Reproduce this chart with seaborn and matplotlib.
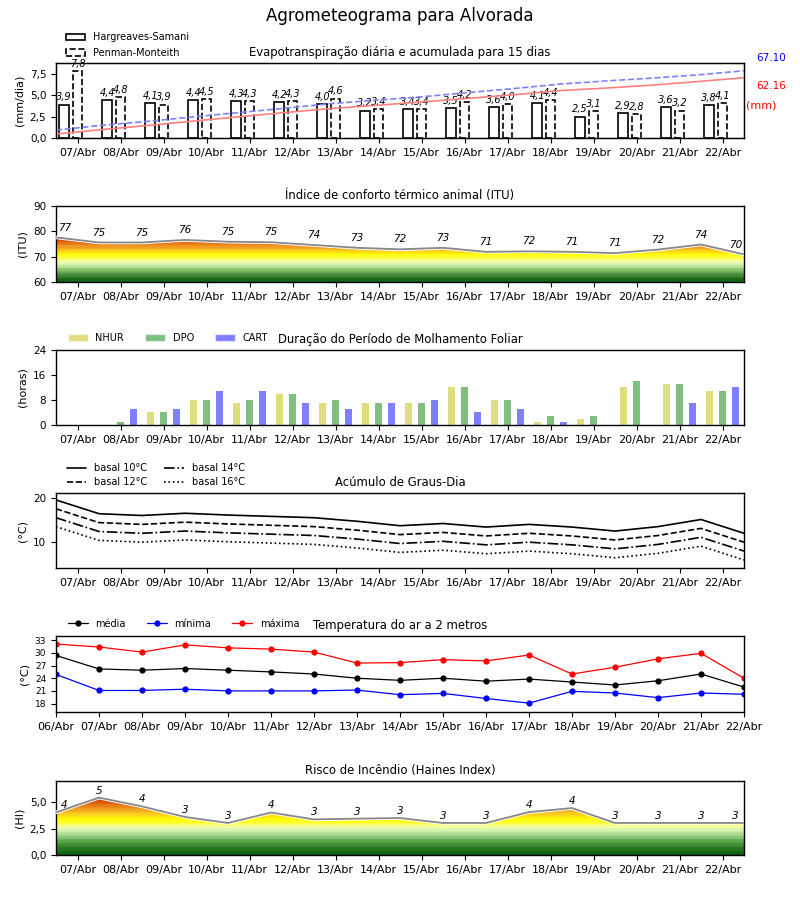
import numpy as np
import matplotlib
matplotlib.use("Agg")
import matplotlib.pyplot as plt
import seaborn as sns
from matplotlib.colors import LinearSegmentedColormap, Normalize
from matplotlib.patches import PathPatch, Patch
from matplotlib.ticker import FuncFormatter
import matplotlib.patheffects as pe

sns.set_style("ticks", {"axes.edgecolor": "black", "xtick.color": "black",
                        "ytick.color": "black", "text.color": "black",
                        "axes.labelcolor": "black"})
plt.rcParams['font.family'] = ['DejaVu Sans']

# ---------------- data ----------------
dias = ["07/Abr", "08/Abr", "09/Abr", "10/Abr", "11/Abr", "12/Abr", "13/Abr", "14/Abr",
        "15/Abr", "16/Abr", "17/Abr", "18/Abr", "19/Abr", "20/Abr", "21/Abr", "22/Abr"]
dias_temp = ["06/Abr"] + dias

et_hs = [3.9, 4.4, 4.1, 4.4, 4.3, 4.2, 4.0, 3.2, 3.4, 3.5, 3.6, 4.1, 2.5, 2.9, 3.6, 3.8]
et_pm = [7.8, 4.8, 3.9, 4.5, 4.3, 4.3, 4.6, 3.4, 3.4, 4.2, 4.0, 4.4, 3.1, 2.8, 3.2, 4.1]
et_hs_total = "62.16"
et_pm_total = "67.10"

itu = [77.6, 75.6, 75.6, 76.6, 75.9, 75.7, 74.6, 73.5, 72.9, 73.5, 71.9, 72.1, 71.9,
       71.4, 72.8, 74.8, 70.9]

nhur = [0, 0, 4, 8, 7, 10, 7, 7, 7, 12, 8, 1, 2, 12, 13, 11]
dpo = [0, 1, 4, 8, 8, 10, 8, 7, 7, 12, 8, 3, 3, 14, 13, 11]
cart = [0, 5, 5, 11, 11, 7, 5, 7, 8, 4, 5, 1, 0, 0, 7, 12]

gd10 = [19.5, 16.4, 16.0, 16.5, 16.1, 15.8, 15.5, 14.7, 13.7, 14.2, 13.4, 14.0, 13.4,
        12.5, 13.5, 15.1, 12.0]
gd12 = [17.5, 14.4, 14.0, 14.5, 14.1, 13.8, 13.5, 12.7, 11.7, 12.2, 11.4, 12.0, 11.4,
        10.5, 11.5, 13.1, 10.0]
gd14 = [15.5, 12.4, 12.0, 12.5, 12.1, 11.8, 11.5, 10.7, 9.7, 10.2, 9.4, 10.0, 9.4,
        8.5, 9.5, 11.1, 8.0]
gd16 = [13.5, 10.4, 10.0, 10.5, 10.1, 9.8, 9.5, 8.7, 7.7, 8.2, 7.4, 8.0, 7.4,
        6.5, 7.5, 9.1, 6.0]

t_med = [29.4, 26.2, 25.9, 26.3, 25.9, 25.5, 25.0, 24.0, 23.5, 24.0, 23.3, 23.8, 23.1,
         22.4, 23.4, 25.0, 21.9]
t_min = [24.9, 21.1, 21.1, 21.4, 21.0, 21.0, 21.0, 21.2, 20.1, 20.4, 19.2, 18.1, 20.9,
         20.5, 19.4, 20.5, 20.2]
t_max = [32.1, 31.4, 30.2, 31.9, 31.2, 30.9, 30.2, 27.6, 27.7, 28.4, 28.1, 29.5, 25.0,
         26.6, 28.6, 29.9, 24.0]

haines = [4.03, 5.43, 4.6, 3.6, 3.03, 4.02, 3.37, 3.44, 3.5, 3.03, 3.03, 4.06, 4.44,
          3.03, 3.03, 3.03, 3.03]

# ---------------- helpers ----------------
comma = FuncFormatter(lambda v, p: f"{v:.1f}".replace('.', ','))
TICKFS = 8
TITLEFS = 8.4


def day_axis(ax):
    ax.set_xlim(0, 16)
    ax.set_xticks(np.arange(16) + 0.5)
    ax.set_xticklabels(dias, fontsize=TICKFS)
    ax.tick_params(axis='y', labelsize=7.5)


def gradient_fill(ax, x, y, cmap, ymin, ymax):
    grad = np.linspace(ymin, ymax, 400).reshape(-1, 1)
    im = ax.imshow(grad, origin='lower', aspect='auto', cmap=cmap,
                   norm=Normalize(ymin, ymax), extent=[x[0], x[-1], ymin, ymax],
                   zorder=1, interpolation='nearest')
    poly = ax.fill_between(x, ymin, y, facecolor='none', edgecolor='none')
    patch = PathPatch(poly.get_paths()[0], transform=ax.transData,
                      facecolor='none', edgecolor='none')
    ax.add_patch(patch)
    im.set_clip_path(patch)


fig = plt.figure(figsize=(8, 9), dpi=100)
fig.suptitle("Agrometeograma para Alvorada", fontsize=12, y=0.992)

L, W = 0.07, 0.86
ax1 = fig.add_axes([L, 0.8467, W, 0.0833])
ax2 = fig.add_axes([L, 0.6867, W, 0.0844])
ax3 = fig.add_axes([L, 0.5278, W, 0.0833])
ax4 = fig.add_axes([L, 0.3689, W, 0.0833])
ax5 = fig.add_axes([L, 0.2089, W, 0.0844])
ax6 = fig.add_axes([L, 0.05, W, 0.0822])

LEGX = 0.007

# ---------------- panel 1: ET ----------------
xd = np.arange(16)
ax1.bar(xd + 0.19, et_hs, width=0.22, facecolor='white', edgecolor='black', lw=1.2, zorder=2)
ax1.bar(xd + 0.5, et_pm, width=0.22, facecolor='white', edgecolor='black', lw=1.2,
        linestyle='--', zorder=2)
for xi, v in zip(xd + 0.19, et_hs):
    ax1.annotate(f"{v:.1f}".replace('.', ','), (xi, v), xytext=(0, 1.5),
                 textcoords='offset points', ha='center', va='bottom', fontsize=7,
                 style='italic')
for xi, v in zip(xd + 0.5, et_pm):
    ax1.annotate(f"{v:.1f}".replace('.', ','), (xi, v), xytext=(0, 1.5),
                 textcoords='offset points', ha='center', va='bottom', fontsize=7,
                 style='italic')
ax1.set_ylim(0, 8.75)
ax1.set_yticks([0, 2.5, 5, 7.5])
ax1.yaxis.set_major_formatter(comma)
day_axis(ax1)
ax1.set_ylabel("(mm/dia)", fontsize=8)
ax1.set_title("Evapotranspiração diária e acumulada para 15 dias", fontsize=TITLEFS, pad=5)
ax1b = ax1.twinx()
xa = np.linspace(0, 16, 16)
sns.lineplot(x=xa, y=np.cumsum(et_hs), ax=ax1b, color='#ff8080', lw=1.2)
ax1b.plot(xa, np.cumsum(et_pm), color='#8080ff', lw=1.2, ls='--')
ax1b.set_ylim(0, 74.5)
ax1b.set_yticks([])
ax1b.set_xlim(0, 16)
leg_h = [Patch(facecolor='white', edgecolor='black', lw=1.2),
         Patch(facecolor='white', edgecolor='black', lw=1.2, linestyle='--')]
ax1.legend(leg_h, ["Hargreaves-Samani", "Penman-Monteith"], loc='lower left',
           bbox_to_anchor=(LEGX, 1.0), frameon=False, fontsize=7, borderaxespad=0.1,
           handlelength=2, labelspacing=0.6)
fig.text(0.964, 0.9356, et_pm_total, color='blue', fontsize=7.5, ha='center', va='center')
fig.text(0.964, 0.9044, et_hs_total, color='red', fontsize=7.5, ha='center', va='center')
fig.text(0.951, 0.883, "(mm)", color='red', fontsize=8, ha='center', va='center')

# ---------------- panel 2: ITU ----------------
def rel(v):
    return (v - 60) / 18


itu_cmap = LinearSegmentedColormap.from_list("itu", [
    (rel(60), "#0b5e0b"), (rel(62), "#357f2c"), (rel(64), "#6fae58"), (rel(65.5), "#a5d888"),
    (rel(66.8), "#d6f0b4"), (rel(68), "#f5ffb0"), (rel(69.2), "#ffff50"), (rel(71), "#ffff00"),
    (rel(72.2), "#ffcf1f"), (rel(73.5), "#f5a623"), (rel(75), "#e8821a"),
    (rel(76.5), "#dd4a0a"), (rel(78), "#cc0000")],
    N=36)
x17 = np.arange(17)
gradient_fill(ax2, x17, itu, itu_cmap, 60, 78)
sns.lineplot(x=x17, y=itu, ax=ax2, color='#888888', lw=1.3, zorder=3,
             path_effects=[pe.Stroke(linewidth=2.6, foreground='white'), pe.Normal()])
lab_x = [0.2] + list(range(1, 16)) + [15.8]
for xi, v in zip(lab_x, itu):
    ax2.annotate(str(int(v)), (xi, v), xytext=(0, 3.5), textcoords='offset points',
                 ha='center', va='bottom', fontsize=7.5, style='italic')
ax2.set_ylim(60, 90)
ax2.set_yticks([60, 70, 80, 90])
day_axis(ax2)
ax2.set_ylabel("(ITU)", fontsize=8)
ax2.set_title("Índice de conforto térmico animal (ITU)", fontsize=TITLEFS, pad=5)

# ---------------- panel 3: molhamento ----------------
bw = 0.155
ax3.bar(xd + 0.5 - 0.302, nhur, width=bw, color='y', alpha=0.5, lw=0)
ax3.bar(xd + 0.5, dpo, width=bw, color='g', alpha=0.5, lw=0)
ax3.bar(xd + 0.5 + 0.302, cart, width=bw, color='b', alpha=0.5, lw=0)
ax3.set_ylim(0, 24)
ax3.set_yticks([0, 8, 16, 24])
day_axis(ax3)
ax3.set_ylabel("(horas)", fontsize=8)
ax3.set_title("Duração do Período de Molhamento Foliar", fontsize=TITLEFS, pad=5)
leg3 = [Patch(facecolor='y', alpha=0.5), Patch(facecolor='g', alpha=0.5),
        Patch(facecolor='b', alpha=0.5)]
ax3.legend(leg3, ["NHUR", "DPO", "CART"], loc='lower left', bbox_to_anchor=(LEGX, 1.0),
           frameon=False, fontsize=7, ncol=3, borderaxespad=0.35, handlelength=2,
           columnspacing=2.2)

# ---------------- panel 4: graus-dia ----------------
sns.lineplot(x=x17, y=gd10, ax=ax4, color='black', lw=1.2, label="basal 10°C")
ax4.plot(x17, gd12, color='black', lw=1.2, ls='--', label="basal 12°C")
ax4.plot(x17, gd14, color='black', lw=1.2, ls='-.', label="basal 14°C")
ax4.plot(x17, gd16, color='black', lw=1.2, ls=':', label="basal 16°C")
ax4.set_ylim(4.2, 21.05)
ax4.set_yticks([10, 20])
day_axis(ax4)
ax4.set_ylabel("(°C)", fontsize=8)
ax4.set_title("Acúmulo de Graus-Dia", fontsize=TITLEFS, pad=5)
h4, l4 = ax4.get_legend_handles_labels()
ax4.legend(h4[:4], l4[:4],
           loc='lower left', bbox_to_anchor=(LEGX, 1.0), frameon=False, fontsize=7,
           ncol=2, borderaxespad=0.2, handlelength=2, labelspacing=0.4, columnspacing=1.8)

# ---------------- panel 5: temperatura ----------------
sns.lineplot(x=x17, y=t_med, ax=ax5, color='black', lw=0.9, marker='o', markersize=4.5,
             markeredgewidth=0, label="média")
sns.lineplot(x=x17, y=t_min, ax=ax5, color='blue', lw=0.9, marker='o', markersize=4.5,
             markeredgewidth=0, label="mínima")
sns.lineplot(x=x17, y=t_max, ax=ax5, color='red', lw=0.9, marker='o', markersize=4.5,
             markeredgewidth=0, label="máxima")
ax5.set_xlim(0, 16)
ax5.set_xticks(x17)
ax5.set_xticklabels(dias_temp, fontsize=TICKFS)
ax5.set_ylim(16, 34)
ax5.set_yticks([18, 21, 24, 27, 30, 33])
ax5.tick_params(axis='y', labelsize=6.5)
ax5.set_ylabel("(°C)", fontsize=8)
ax5.set_title("Temperatura do ar a 2 metros", fontsize=TITLEFS, pad=5)
ax5.legend(loc='lower left', bbox_to_anchor=(LEGX, 1.0), frameon=False, fontsize=7,
           ncol=3, borderaxespad=0.35, handlelength=2, columnspacing=2.2)

# ---------------- panel 6: Haines ----------------
def relh(v):
    return v / 5.5


hi_cmap = LinearSegmentedColormap.from_list("hi", [
    (relh(0), "#0a5e0a"), (relh(0.7), "#2f7f28"), (relh(1.3), "#5fa84c"),
    (relh(1.8), "#9fd488"), (relh(2.3), "#d8f4b0"), (relh(2.7), "#f4ffa0"),
    (relh(3.0), "#ffff30"), (relh(3.4), "#ffff00"), (relh(3.8), "#ffd020"),
    (relh(4.3), "#f0a020"), (relh(4.9), "#e06010"), (relh(5.5), "#c02000")],
    N=44)
gradient_fill(ax6, x17, haines, hi_cmap, 0, 5.5)
sns.lineplot(x=x17, y=haines, ax=ax6, color='#888888', lw=1.3, zorder=3,
             path_effects=[pe.Stroke(linewidth=2.6, foreground='white'), pe.Normal()])
for xi, v in zip(lab_x, haines):
    ax6.annotate(str(int(v)), (xi, v), xytext=(0, 1.5), textcoords='offset points',
                 ha='center', va='bottom', fontsize=7.5, style='italic')
ax6.set_ylim(0, 7.0)
ax6.set_yticks([0, 2.5, 5])
ax6.yaxis.set_major_formatter(comma)
day_axis(ax6)
ax6.set_ylabel("(HI)", fontsize=8)
ax6.set_title("Risco de Incêndio (Haines Index)", fontsize=TITLEFS, pad=5)

for ax in [ax1, ax2, ax3, ax4, ax5, ax6]:
    ax.set_xlabel("")
    for s in ax.spines.values():
        s.set_linewidth(1.0)
        s.set_color('black')

fig.savefig("out.png", dpi=100)
